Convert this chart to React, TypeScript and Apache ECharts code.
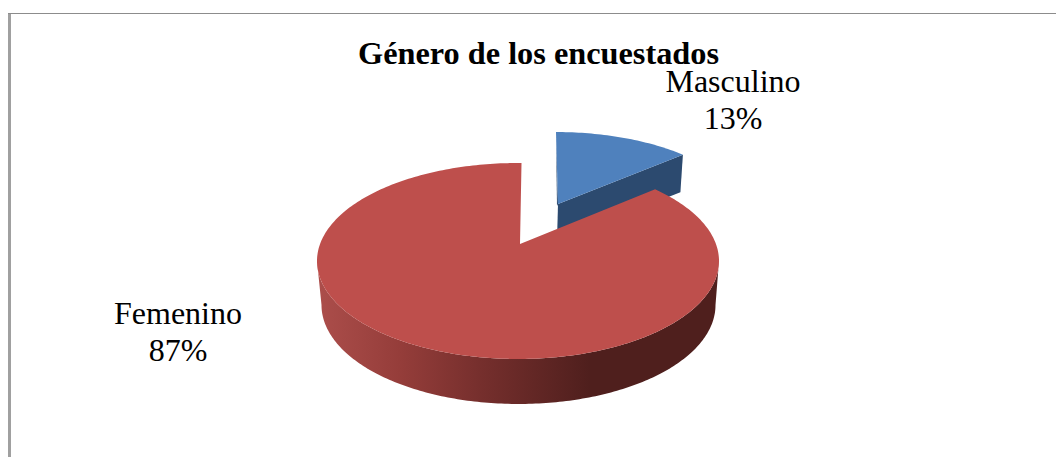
import React, { useEffect, useRef } from "react";
import * as echarts from "echarts";

const titleText = "Género de los encuestados";
const categories = ["Masculino", "Femenino"];
const percentages = [13, 87];

const FONT = '"Liberation Serif", "Times New Roman", serif';
const BLUE_TOP = "#4F81BD";
const BLUE_SIDE = "#2C4A6F";
const RED_TOP = "#BE4F4C";

// Perspective warp of the pie plane, in degrees
const WARP = 4.8;

// Projected geometry of each slice
const sliceGeometry = [
  { cx: 555, cy: 219, rx: 190, ry: 87, apexX: 558, apexY: 204, rot: 0.3, depth: 37, labelX: 733, labelY: 99 },
  { cx: 518, cy: 261, rx: 201, ry: 98, apexX: 520, apexY: 244, rot: 1, depth: 45, labelX: 178, labelY: 331 },
];
const rimBottom = { cx: 518.5, cy: 305, rx: 197, ry: 99 };

const total = percentages.reduce((a, b) => a + b, 0);

function warped(deg: number) {
  return deg - WARP * Math.sin((2 * deg * Math.PI) / 180);
}

function point(g: { cx: number; cy: number; rx: number; ry: number }, deg: number) {
  const r = (deg * Math.PI) / 180;
  return [g.cx + g.rx * Math.sin(r), g.cy - g.ry * Math.cos(r)];
}

function arc(g: { cx: number; cy: number; rx: number; ry: number }, from: number, to: number) {
  const pts: number[][] = [];
  const n = Math.max(8, Math.ceil(Math.abs(to - from)));
  for (let i = 0; i <= n; i++) pts.push(point(g, from + ((to - from) * i) / n));
  return pts;
}

function renderSlice(params: any, api: any) {
  const idx = params.dataIndex;
  const value = api.value(0);
  const before = percentages.slice(0, idx).reduce((a, b) => a + b, 0);
  const start = (before / total) * 360;
  const end = start + (value / total) * 360;
  const g = sliceGeometry[idx];
  const children: any[] = [];
  const a0 = warped(start) + g.rot;
  const a1 = warped(end) + g.rot;

  if (idx === 0) {
    // flat cut wall running from apex to the outer edge
    const outer = point(g, a1);
    children.push({
      type: "polygon",
      shape: {
        points: [
          [g.apexX, g.apexY],
          outer,
          [outer[0] - 2.5, outer[1] + g.depth + 0.5],
          [g.apexX - 1, g.apexY + g.depth],
        ],
      },
      style: { fill: BLUE_SIDE },
    });
    // thin sliver of the opposite wall
    const left = point(g, a0);
    children.push({
      type: "polygon",
      shape: { points: [[left[0], left[1] + 2], [g.apexX, g.apexY], [g.apexX - 1, g.apexY + 2]] },
      style: { fill: BLUE_SIDE },
    });
  } else {
    // curved outer wall along the front half
    const upper = arc(g, 90, 270);
    const lower = arc(rimBottom, 270, 90);
    const x0 = g.cx - g.rx;
    const x1 = g.cx + g.rx;
    children.push({
      type: "polygon",
      shape: { points: [...upper, ...lower] },
      style: {
        fill: new echarts.graphic.LinearGradient(0, 0, 1, 0, [
          { offset: 0, color: "#AC4E4B" },
          { offset: (400 - x0) / (x1 - x0), color: "#953D3A" },
          { offset: (480 - x0) / (x1 - x0), color: "#762F2D" },
          { offset: (590 - x0) / (x1 - x0), color: "#4F1F1D" },
          { offset: 1, color: "#4F1F1D" },
        ]),
      },
    });
  }

  children.push({
    type: "polygon",
    shape: { points: [[g.apexX, g.apexY], ...arc(g, a0, a1)] },
    style: { fill: idx === 0 ? BLUE_TOP : RED_TOP },
  });

  children.push({
    type: "text",
    style: {
      text: `${categories[idx]}\n${Math.round((value / total) * 100)}%`,
      x: g.labelX,
      y: g.labelY,
      align: "center",
      verticalAlign: "middle",
      font: `32px ${FONT}`,
      lineHeight: 37,
      fill: "#000000",
    },
  });

  return { type: "group", children };
}

export default function App() {
  const ref = useRef<HTMLDivElement>(null);

  useEffect(() => {
    document.body.style.margin = "0";
    const chart = echarts.init(ref.current!, undefined, { renderer: "svg" });
    chart.setOption({
      animation: false,
      backgroundColor: "#ffffff",
      title: {
        text: titleText,
        left: 533.5,
        top: 32,
        textAlign: "center",
        textStyle: { fontFamily: FONT, fontSize: 32.3, fontWeight: "bold", color: "#000000" },
      },
      graphic: [
        { type: "rect", shape: { x: 8, y: 13, width: 3, height: 444 }, style: { fill: "#A0A0A0" }, silent: true },
        { type: "rect", shape: { x: 8, y: 13, width: 1048, height: 1 }, style: { fill: "#8C8C8C" }, silent: true },
      ],
      series: [
        {
          type: "custom",
          coordinateSystem: "none",
          renderItem: renderSlice,
          data: percentages.map((v, i) => ({ name: categories[i], value: [v] })),
        },
      ],
    });
    return () => chart.dispose();
  }, []);

  return <div ref={ref} style={{ width: 1056, height: 457 }} />;
}
